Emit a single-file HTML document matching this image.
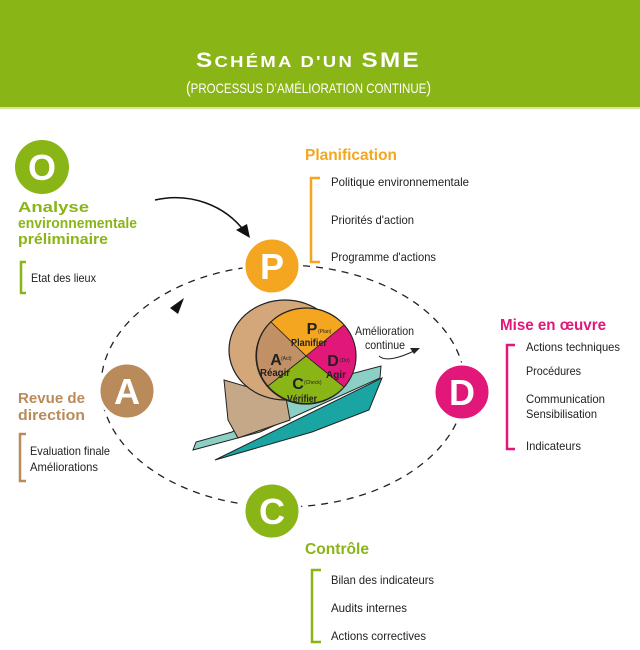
<!DOCTYPE html>
<html><head><meta charset="utf-8"><style>
body{margin:0;width:640px;height:650px;background:#fff;overflow:hidden}
svg{display:block}
text{font-family:"Liberation Sans Narrow","Liberation Sans",sans-serif}
</style></head><body>
<svg width="640" height="650" viewBox="0 0 640 650">
<rect x="0" y="0" width="640" height="107" fill="#8ab516"/>
<rect x="0" y="107" width="640" height="2" fill="#d4e59a"/>
<text x="196" y="67" textLength="225" lengthAdjust="spacingAndGlyphs" fill="#fff" font-weight="bold" font-size="16" letter-spacing="2"><tspan font-size="21">S</tspan>CHÉMA D'UN <tspan font-size="21">SME</tspan></text>
<text x="186" y="93" textLength="245" lengthAdjust="spacingAndGlyphs" fill="#fff" font-size="14"><tspan font-size="17">(</tspan>PROCESSUS D’AMÉLIORATION CONTINUE<tspan font-size="17">)</tspan></text>

<ellipse cx="283" cy="386" rx="182" ry="121" fill="none" stroke="#222" stroke-width="1.3" stroke-dasharray="7,6"/>
<path d="M170,308 L184,298 L178,314 Z" fill="#111"/>
<path d="M155,200 C190,192 225,205 245,232" fill="none" stroke="#111" stroke-width="1.5"/>
<path d="M250,238 L236,230 L247,224 Z" fill="#111"/>

<g fill="#fff" font-size="36" font-weight="bold" text-anchor="middle" lengthAdjust="spacingAndGlyphs">
<circle cx="42" cy="167" r="27" fill="#8ab516"/><text x="42" y="180" textLength="20">O</text>
<circle cx="272" cy="266" r="28" fill="#f4a620" stroke="#fff" stroke-width="3"/><text x="272" y="279" textLength="18">P</text>
<circle cx="127" cy="391" r="28" fill="#b98a5a" stroke="#fff" stroke-width="3"/><text x="127" y="404" textLength="20">A</text>
<circle cx="462" cy="392" r="28" fill="#e2177a" stroke="#fff" stroke-width="3"/><text x="462" y="405" textLength="20">D</text>
<circle cx="272" cy="511" r="28" fill="#8ab516" stroke="#fff" stroke-width="3"/><text x="272" y="524" textLength="19">C</text>
</g>

<g fill="#8ab516" font-weight="bold" font-size="15">
<text x="18" y="212" textLength="71" lengthAdjust="spacingAndGlyphs">Analyse</text><text x="18" y="228" textLength="119" lengthAdjust="spacingAndGlyphs">environnementale</text><text x="18" y="244" textLength="90" lengthAdjust="spacingAndGlyphs">préliminaire</text></g>
<path d="M26,262 H21 V293 H26" fill="none" stroke="#8ab516" stroke-width="2.5"/>
<text x="31" y="282" font-size="12" fill="#222" textLength="65" lengthAdjust="spacingAndGlyphs">Etat des lieux</text>

<text x="305" y="160" fill="#f4a620" font-weight="bold" font-size="16" textLength="92" lengthAdjust="spacingAndGlyphs">Planification</text>
<path d="M320,178 H311 V262 H320" fill="none" stroke="#f4a620" stroke-width="2.5"/>
<g font-size="12" fill="#222"><text x="331" y="186" textLength="138" lengthAdjust="spacingAndGlyphs">Politique environnementale</text><text x="331" y="224" textLength="83" lengthAdjust="spacingAndGlyphs">Priorités d'action</text><text x="331" y="261" textLength="105" lengthAdjust="spacingAndGlyphs">Programme d'actions</text></g>

<text x="500" y="330" fill="#e2177a" font-weight="bold" font-size="16" textLength="106" lengthAdjust="spacingAndGlyphs">Mise en œuvre</text>
<path d="M515,345 H507 V449 H515" fill="none" stroke="#e2177a" stroke-width="2.5"/>
<g font-size="12" fill="#222"><text x="526" y="351" textLength="94" lengthAdjust="spacingAndGlyphs">Actions techniques</text><text x="526" y="375" textLength="55" lengthAdjust="spacingAndGlyphs">Procédures</text><text x="526" y="403" textLength="79" lengthAdjust="spacingAndGlyphs">Communication</text><text x="526" y="418" textLength="71" lengthAdjust="spacingAndGlyphs">Sensibilisation</text><text x="526" y="450" textLength="55" lengthAdjust="spacingAndGlyphs">Indicateurs</text></g>

<g fill="#b98a5a" font-weight="bold" font-size="15"><text x="18" y="403" textLength="67" lengthAdjust="spacingAndGlyphs">Revue de</text><text x="18" y="420" textLength="67" lengthAdjust="spacingAndGlyphs">direction</text></g>
<path d="M26,434 H20 V481 H26" fill="none" stroke="#b98a5a" stroke-width="2.5"/>
<g font-size="12" fill="#222"><text x="30" y="455" textLength="80" lengthAdjust="spacingAndGlyphs">Evaluation finale</text><text x="30" y="471" textLength="68" lengthAdjust="spacingAndGlyphs">Améliorations</text></g>

<text x="305" y="554" fill="#8ab516" font-weight="bold" font-size="16" textLength="64" lengthAdjust="spacingAndGlyphs">Contrôle</text>
<path d="M321,570 H312 V642 H321" fill="none" stroke="#8ab516" stroke-width="2.5"/>
<g font-size="12" fill="#222"><text x="331" y="584" textLength="103" lengthAdjust="spacingAndGlyphs">Bilan des indicateurs</text><text x="331" y="612" textLength="76" lengthAdjust="spacingAndGlyphs">Audits internes</text><text x="331" y="640" textLength="95" lengthAdjust="spacingAndGlyphs">Actions correctives</text></g>

<!-- center illustration -->
<polygon points="193,450 260,432 380,378 381,366 290,390 232,432 196,442" fill="#8ccfc4" stroke="#222" stroke-width="1"/>
<polygon points="224,380 286,398 290,420 238,438 228,420" fill="#c5a888" stroke="#222" stroke-width="1"/>
<polygon points="215,460 382,378 369,410 312,432" fill="#1aa5a2" stroke="#222" stroke-width="1"/>
<ellipse cx="285" cy="350" rx="56" ry="50" fill="#d4a77a" stroke="#222" stroke-width="1.2"/>
<g transform="translate(306,356)">
<ellipse cx="0" cy="0" rx="50" ry="48" fill="#c19065" stroke="#222" stroke-width="1.2"/>
<path d="M0,0 L-35,-34 A50,48 0 0 1 38,-31 Z" fill="#f4a620" stroke="#222" stroke-width="0.8"/>
<path d="M0,0 L38,-31 A50,48 0 0 1 38,31 Z" fill="#e2177a" stroke="#222" stroke-width="0.8"/>
<path d="M0,0 L38,31 A50,48 0 0 1 -38,30 Z" fill="#8ab516" stroke="#222" stroke-width="0.8"/>
<path d="M0,0 L-38,30 A50,48 0 0 1 -35,-34 Z" fill="#c19065" stroke="#222" stroke-width="0.8"/>
</g>
<g fill="#222" font-weight="bold" font-size="10" text-anchor="middle">
<text x="312" y="334" font-size="16">P</text><text x="309" y="346" textLength="36" lengthAdjust="spacingAndGlyphs">Planifier</text>
<text x="276" y="365" font-size="16">A</text><text x="275" y="376" textLength="30" lengthAdjust="spacingAndGlyphs">Réagir</text>
<text x="333" y="366" font-size="16">D</text><text x="336" y="378" textLength="20" lengthAdjust="spacingAndGlyphs">Agir</text>
<text x="298" y="389" font-size="16">C</text><text x="302" y="402" textLength="30" lengthAdjust="spacingAndGlyphs">Vérifier</text></g>
<g font-size="5" fill="#222"><text x="318" y="333">(Plan)</text><text x="281" y="360">(Act)</text><text x="340" y="362">(Do)</text><text x="304" y="384">(Check)</text></g>
<g font-size="12" fill="#222"><text x="355" y="335" textLength="59" lengthAdjust="spacingAndGlyphs">Amélioration</text><text x="365" y="349" textLength="40" lengthAdjust="spacingAndGlyphs">continue</text></g>
<path d="M379,356 C385,362 400,358 416,350" fill="none" stroke="#222" stroke-width="1"/>
<path d="M420,348 L410,348 L414,354 Z" fill="#222"/>
</svg>
</body></html>
